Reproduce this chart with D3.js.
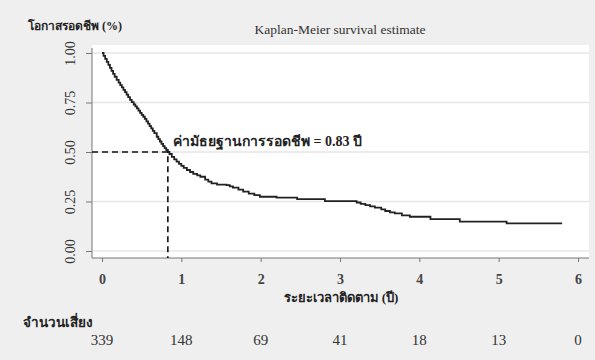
<!DOCTYPE html>
<html><head><meta charset="utf-8">
<script src="https://cdn.jsdelivr.net/npm/d3@7"></script>
<style>body{margin:0;background:#efefef}svg{display:block}text{font-family:"Liberation Serif","Times New Roman",serif}</style>
</head><body><svg id="c" width="595" height="360"></svg>
<script>
const times = [0,0.02,0.04,0.06,0.08,0.10,0.12,0.14,0.16,0.185,0.21,0.23,0.25,0.27,0.29,0.31,0.33,0.353,0.375,0.40,0.42,0.44,0.46,0.48,0.50,0.52,0.54,0.56,0.58,0.60,0.62,0.64,0.66,0.69,0.71,0.73,0.75,0.77,0.79,0.81,0.83,0.85,0.88,0.91,0.94,0.97,1.00,1.03,1.07,1.11,1.15,1.20,1.24,1.30,1.34,1.38,1.45,1.57,1.61,1.65,1.72,1.78,1.85,1.92,1.99,2.20,2.46,2.81,3.21,3.26,3.32,3.38,3.44,3.52,3.57,3.63,3.69,3.78,3.88,4.14,4.51,5.10,5.80];
const survival = [1.00,0.985,0.97,0.955,0.94,0.925,0.91,0.895,0.88,0.864,0.85,0.838,0.826,0.814,0.802,0.79,0.777,0.763,0.752,0.74,0.73,0.72,0.709,0.698,0.688,0.678,0.667,0.655,0.643,0.631,0.619,0.607,0.595,0.577,0.565,0.553,0.541,0.53,0.52,0.51,0.50,0.49,0.475,0.463,0.451,0.44,0.43,0.42,0.409,0.399,0.39,0.382,0.375,0.36,0.35,0.342,0.335,0.333,0.326,0.32,0.31,0.30,0.29,0.282,0.274,0.27,0.262,0.252,0.245,0.238,0.232,0.225,0.219,0.21,0.202,0.195,0.19,0.18,0.173,0.161,0.148,0.14,0.14];
const xTicks = [0,1,2,3,4,5,6];
const yTicks = [0,0.25,0.5,0.75,1.0];
const atRisk = [339,148,69,41,18,13,0];
const medianTime = 0.83;
const title = "Kaplan-Meier survival estimate";
const yTitle = "โอกาสรอดชีพ (%)";
const xTitle = "ระยะเวลาติดตาม (ปี)";
const riskTitle = "จำนวนเสี่ยง";
const medianLabel = "ค่ามัธยฐานการรอดชีพ = 0.83 ปี";

const svg = d3.select("#c");
const x = d3.scaleLinear().domain([0,6]).range([102,578]);
const y = d3.scaleLinear().domain([0,1]).range([251,53]);

// plot background
svg.append("rect").attr("x",92).attr("y",45).attr("width",497).attr("height",213).attr("fill","#fff");

// gridlines
svg.append("g").selectAll("line").data(yTicks).join("line")
  .attr("x1",93).attr("x2",589).attr("y1",d=>y(d)).attr("y2",d=>y(d))
  .attr("stroke","#e6e6e6").attr("stroke-width",1.5);

// y axis
const ya = svg.append("g").attr("transform","translate(92,0)")
  .call(d3.axisLeft(y).tickValues(yTicks).tickFormat(d3.format(".2f")).tickSize(6));
ya.select(".domain").attr("stroke","#777").attr("d","M0,48V258");
ya.selectAll(".tick line").attr("stroke","#777");
ya.selectAll(".tick text").attr("font-size",14).attr("fill","#333")
  .attr("font-family","Liberation Serif, serif")
  .attr("x",0).attr("y",0).attr("dy","0.35em")
  .attr("text-anchor","middle")
  .attr("transform","translate(-22,0) rotate(-90)");

// x axis
const xa = svg.append("g").attr("transform","translate(0,258)")
  .call(d3.axisBottom(x).tickValues(xTicks).tickFormat(d3.format("d")).tickSize(4).tickPadding(12));
xa.select(".domain").attr("stroke","#777").attr("d","M92,0H589");
xa.selectAll(".tick line").attr("stroke","#777");
xa.selectAll(".tick text").attr("font-size",14).attr("font-weight","bold").attr("fill","#444").attr("font-family","Liberation Serif, serif");

// KM curve
const data = times.map((t,i)=>({t, s:survival[i]}));
svg.append("path").datum(data)
  .attr("fill","none").attr("stroke","#222").attr("stroke-width",1.8)
  .attr("d", d3.line().x(d=>x(d.t)).y(d=>y(d.s)).curve(d3.curveStepAfter));

// median dashed lines
svg.append("path")
  .attr("d",`M92,${y(0.5)}H${x(medianTime)}V258`)
  .attr("fill","none").attr("stroke","#111").attr("stroke-width",1.6).attr("stroke-dasharray","6,4");

svg.append("text").attr("x",173).attr("y",146).attr("font-size",14).attr("font-weight","bold").attr("fill","#222").text(medianLabel);

// titles
svg.append("text").attr("x",340).attr("y",34).attr("text-anchor","middle").attr("font-size",13.5).attr("fill","#333").text(title);
svg.append("text").attr("x",28).attr("y",30).attr("font-size",12).attr("font-weight","bold").attr("fill","#222").text(yTitle);
svg.append("text").attr("x",341).attr("y",302).attr("text-anchor","middle").attr("font-size",13).attr("font-weight","bold").attr("fill","#222").text(xTitle);
svg.append("text").attr("x",23).attr("y",327).attr("font-size",13.5).attr("font-weight","bold").attr("fill","#222").text(riskTitle);

svg.append("g").selectAll("text").data(atRisk).join("text")
  .attr("x",(d,i)=>x(xTicks[i])).attr("y",345).attr("text-anchor","middle")
  .attr("font-size",15).attr("fill","#333").text(d=>d);
</script></body></html>
